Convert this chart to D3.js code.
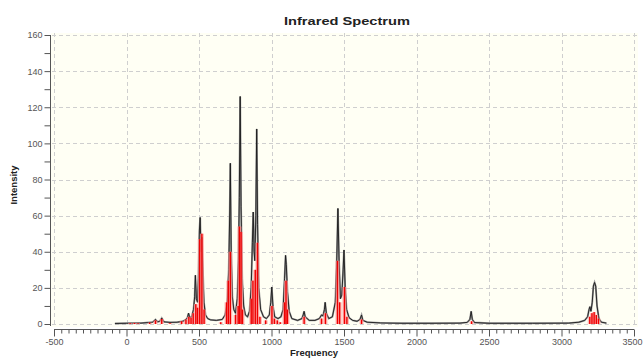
<!DOCTYPE html>
<html>
<head>
<meta charset="utf-8">
<script src="https://cdn.jsdelivr.net/npm/d3@7"></script>
<style>
  html, body { margin: 0; padding: 0; background: #ffffff; }
  svg { display: block; font-family: "Liberation Sans", Arial, sans-serif; }
</style>
</head>
<body>
<svg id="chart" width="643" height="358"></svg>
<script>
// Computed IR stick spectrum: [frequency (cm-1), intensity]
const sticks = [
  [25, 0.5], [55, 0.6], [80, 0.4], [160, 0.8], [200, 2.0], [243, 2.8], [300, 0.5],
  [380, 1.5], [410, 2.5], [430, 4], [445, 3.5], [460, 6], [478, 11], [490, 9],
  [505, 47], [520, 50], [535, 8],
  [650, 1], [690, 12], [702, 24], [716, 40],
  [752, 5], [770, 10], [779, 54], [790, 51], [800, 8],
  [860, 14], [872, 24], [888, 30], [903, 45], [920, 4],
  [960, 2], [1003, 10], [1020, 3], [1040, 2], [1060, 1],
  [1090, 12], [1100, 24], [1110, 8],
  [1225, 4], [1345, 3], [1372, 6], [1455, 35], [1470, 12], [1503, 20.5], [1520, 4], [1621, 2.5],
  [2380, 1.5],
  [3195, 4], [3210, 6], [3225, 6.6], [3240, 5], [3255, 3]
];

// Broadened spectrum envelope: [frequency (cm-1), intensity]
const envelope = [
  [-80, 0.3], [0, 0.4], [100, 0.5], [150, 0.8], [180, 1], [200, 2.5], [215, 1.2], [230, 1.5],
  [243, 3.3], [258, 1.2], [300, 0.9], [350, 1], [390, 1.5], [410, 2.5], [420, 3.5], [428, 6],
  [436, 3.5], [450, 4], [462, 8], [470, 15], [475, 27], [482, 14], [490, 12], [496, 25],
  [503, 52], [508, 59], [514, 40], [520, 48], [526, 32], [534, 12], [545, 5], [560, 3],
  [580, 2.3], [620, 2], [660, 2.5], [680, 5], [695, 12], [705, 30], [712, 62], [716, 89],
  [722, 40], [730, 15], [740, 8], [752, 6], [764, 14], [772, 35], [778, 70], [784, 126],
  [790, 65], [798, 25], [808, 10], [820, 5], [835, 4], [848, 7], [860, 20], [868, 45],
  [874, 62], [880, 40], [885, 35], [892, 60], [898, 108], [904, 55], [912, 20], [925, 8],
  [945, 4], [965, 3], [985, 5], [995, 12], [1002, 20.5], [1010, 10], [1022, 4], [1045, 3],
  [1065, 4], [1080, 8], [1090, 25], [1097, 38], [1102, 33], [1110, 18], [1122, 7], [1140, 3],
  [1180, 2], [1210, 3], [1218, 5], [1225, 7], [1232, 4], [1260, 2], [1300, 2], [1330, 3],
  [1345, 5], [1355, 4.5], [1365, 8], [1370, 12], [1378, 6], [1395, 3], [1420, 4], [1440, 12],
  [1450, 35], [1458, 64], [1466, 35], [1475, 14], [1485, 16], [1494, 30], [1500, 41], [1508, 20],
  [1518, 8], [1535, 3.5], [1560, 2], [1590, 1.5], [1610, 2.5], [1621, 5], [1630, 2], [1660, 1],
  [1750, 0.6], [1900, 0.4], [2100, 0.4], [2300, 0.5], [2350, 0.9], [2368, 2.5], [2377, 7],
  [2385, 2.5], [2400, 0.8], [2500, 0.4], [2800, 0.4], [3050, 0.5], [3120, 1], [3160, 2],
  [3180, 4], [3190, 8], [3196, 9.6], [3203, 7], [3212, 12], [3220, 21], [3228, 23], [3236, 21],
  [3245, 10], [3258, 3], [3275, 1], [3310, 0.5]
];

const xMajorTicks = [-500, 0, 500, 1000, 1500, 2000, 2500, 3000, 3500];
const yMajorTicks = [0, 20, 40, 60, 80, 100, 120, 140, 160];

const titleText = "Infrared Spectrum";
const xTitle = "Frequency";
const yTitle = "Intensity";

const svg = d3.select("#chart");
const x = d3.scaleLinear().domain([-500, 3500]).range([54, 634]);
const y = d3.scaleLinear().domain([0, 160]).range([324, 35]);

// plot background
svg.append("rect")
  .attr("x", 51).attr("y", 33).attr("width", 587).attr("height", 294)
  .attr("fill", "#fffff4");

// grid
const grid = svg.append("g").attr("stroke", "#cfcfcf").attr("stroke-width", 1)
  .attr("stroke-dasharray", "4,3");
grid.selectAll("line.h").data(yMajorTicks).join("line").attr("class", "h")
  .attr("x1", 52).attr("x2", 638)
  .attr("y1", d => Math.round(y(d)) + 0.5).attr("y2", d => Math.round(y(d)) + 0.5);
grid.selectAll("line.v").data(xMajorTicks).join("line").attr("class", "v")
  .attr("y1", 33).attr("y2", 327)
  .attr("x1", d => Math.round(x(d)) + 0.5).attr("x2", d => Math.round(x(d)) + 0.5);

// envelope
const line = d3.line().x(d => x(d[0])).y(d => y(d[1]));
svg.append("path").datum(envelope)
  .attr("fill", "none").attr("stroke", "#9a9a9a").attr("stroke-width", 1.9)
  .attr("stroke-linejoin", "miter").attr("d", line);
svg.append("path").datum(envelope)
  .attr("fill", "none").attr("stroke", "#1a1a1a").attr("stroke-width", 0.9)
  .attr("stroke-linejoin", "miter").attr("d", line);

// sticks
const st = svg.append("g");
st.selectAll("rect.halo").data(sticks).join("rect").attr("class", "halo")
  .attr("x", d => x(d[0]) - 2).attr("width", 4)
  .attr("y", d => y(d[1])).attr("height", d => y(0) - y(d[1]))
  .attr("fill", "#ff9c9c").attr("opacity", 0.7);
st.selectAll("rect.core").data(sticks).join("rect").attr("class", "core")
  .attr("x", d => x(d[0]) - 0.7).attr("width", 1.4)
  .attr("y", d => y(d[1])).attr("height", d => y(0) - y(d[1]))
  .attr("fill", "#ee0000");

// y axis
const yAxis = d3.axisLeft(y).tickValues(d3.range(0, 161, 10)).tickSize(6)
  .tickFormat(d => (d % 20 === 0 ? d : ""));
const gy = svg.append("g").attr("transform", "translate(50.5,0)").call(yAxis);
gy.select(".domain").attr("stroke", "#555").attr("d", "M0," + y(160) + "V" + (y(0) + 2));
gy.selectAll(".tick line").attr("stroke", "#555");
gy.selectAll(".tick text").attr("fill", "#555").attr("font-size", 9).attr("x", -8);

// x axis
const xAxis = d3.axisBottom(x).tickValues(d3.range(-500, 3501, 50)).tickSize(4)
  .tickFormat(d => (d % 500 === 0 ? d : ""));
const gx = svg.append("g").attr("transform", "translate(0,329.5)").call(xAxis);
gx.select(".domain").attr("stroke", "#555").attr("d", "M" + x(-500) + ",0H" + x(3500));
gx.selectAll(".tick line").attr("stroke", "#555").attr("y2", d => (d % 500 === 0 ? 7 : 4));
gx.selectAll(".tick text").attr("fill", "#555").attr("font-size", 9).attr("y", 9)
  .attr("dx", d => (d === 3500 ? -2 : 0));

// titles
svg.append("text").attr("x", 347).attr("y", 25).attr("text-anchor", "middle")
  .attr("font-weight", "bold").attr("font-size", 11.5).attr("fill", "#222")
  .attr("textLength", 126).attr("lengthAdjust", "spacingAndGlyphs").text(titleText);
svg.append("text").attr("x", 314).attr("y", 356).attr("text-anchor", "middle")
  .attr("font-weight", "bold").attr("font-size", 9.5).attr("fill", "#222").text(xTitle);
svg.append("text").attr("transform", "translate(17,185) rotate(-90)").attr("text-anchor", "middle")
  .attr("font-weight", "bold").attr("font-size", 9.5).attr("fill", "#222").text(yTitle);
</script>
</body>
</html>
